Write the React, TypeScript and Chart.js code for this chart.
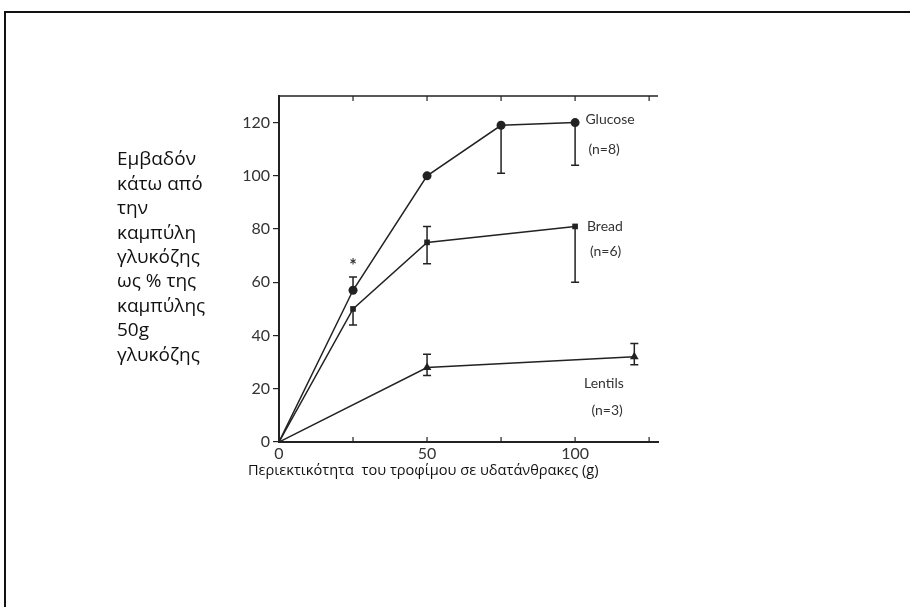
import { useEffect, useRef } from "react";
import { Chart, registerables } from "chart.js";

Chart.register(...registerables);

// ---- data ----
const glucoseX = [0, 25, 50, 75, 100];
const glucoseY = [0, 57, 100, 119, 120];
const glucoseErrLow: (number | null)[] = [null, null, null, 101, 104];
const glucoseErrHigh: (number | null)[] = [null, 62, null, null, null];

const breadX = [0, 25, 50, 100];
const breadY = [0, 50, 75, 81];
const breadErrLow: (number | null)[] = [null, 44, 67, 60];
const breadErrHigh: (number | null)[] = [null, null, 81, null];

const lentilsX = [0, 50, 120];
const lentilsY = [0, 28, 32];
const lentilsErrLow: (number | null)[] = [null, 25, 29];
const lentilsErrHigh: (number | null)[] = [null, 33, 37];

const xLabeledTicks = [0, 50, 100];
const xMin = 0;
const xMax = 128;
const xStep = 25;
const yMin = 0;
const yMax = 130;
const yStep = 20;

const yTitleLines = [
  "Εμβαδόν",
  "κάτω από",
  "την",
  "καμπύλη",
  "γλυκόζης",
  "ως % της",
  "καμπύλης",
  "50g",
  "γλυκόζης",
];
const xTitle = "Περιεκτικότητα  του τροφίμου σε υδατάνθρακες (g)";

const noteTexts = ["Glucose", "(n=8)", "Bread", "(n=6)", "Lentils", "(n=3)", "*"];
const noteX = [103.5, 104.5, 104, 105, 103, 105.5, 25];
const noteY = [121, 110, 81, 71.5, 22, 12, 67];

const errLows = [glucoseErrLow, breadErrLow, lentilsErrLow];
const errHighs = [glucoseErrHigh, breadErrHigh, lentilsErrHigh];

const INK = "#222";

const toPoints = (xs: number[], ys: number[]) => xs.map((x, i) => ({ x, y: ys[i] }));

export default function App() {
  const ref = useRef<HTMLCanvasElement | null>(null);

  useEffect(() => {
    if (!ref.current) return;

    const framePlugin = {
      id: "frame",
      beforeDraw(chart: any) {
        const { ctx, width, height } = chart;
        ctx.save();
        ctx.fillStyle = "#fff";
        ctx.fillRect(0, 0, width, height);
        ctx.strokeStyle = "#111";
        ctx.lineWidth = 2;
        ctx.beginPath();
        ctx.moveTo(5, height + 5);
        ctx.lineTo(5, 12);
        ctx.lineTo(width + 5, 12);
        ctx.stroke();
        ctx.restore();
      },
    };

    const axesPlugin = {
      id: "axesExtra",
      afterDraw(chart: any) {
        const { ctx, chartArea } = chart;
        const xs = chart.scales.x;
        ctx.save();
        ctx.strokeStyle = INK;
        ctx.lineWidth = 1.5;
        ctx.beginPath();
        ctx.moveTo(chartArea.left, chartArea.top);
        ctx.lineTo(chartArea.right, chartArea.top);
        ctx.stroke();
        ctx.lineWidth = 1.2;
        xs.ticks.forEach((t: any) => {
          if (t.value === 0) return;
          const px = xs.getPixelForValue(t.value);
          ctx.beginPath();
          ctx.moveTo(px, chartArea.bottom);
          ctx.lineTo(px, chartArea.bottom - 5);
          ctx.moveTo(px, chartArea.top);
          ctx.lineTo(px, chartArea.top + 5);
          ctx.stroke();
        });
        ctx.restore();
      },
    };

    const errorPlugin = {
      id: "errorBars",
      afterDatasetsDraw(chart: any) {
        const { ctx } = chart;
        const xs = chart.scales.x;
        const ys = chart.scales.y;
        ctx.save();
        ctx.strokeStyle = INK;
        ctx.lineWidth = 1.5;
        chart.data.datasets.forEach((ds: any, di: number) => {
          ds.data.forEach((p: any, i: number) => {
            const lo = errLows[di][i];
            const hi = errHighs[di][i];
            if (lo == null && hi == null) return;
            const px = xs.getPixelForValue(p.x);
            const top = ys.getPixelForValue(hi ?? p.y);
            const bot = ys.getPixelForValue(lo ?? p.y);
            ctx.beginPath();
            ctx.moveTo(px, top);
            ctx.lineTo(px, bot);
            if (hi != null) {
              ctx.moveTo(px - 4, top);
              ctx.lineTo(px + 4, top);
            }
            if (lo != null) {
              ctx.moveTo(px - 4, bot);
              ctx.lineTo(px + 4, bot);
            }
            ctx.stroke();
          });
        });
        ctx.restore();
      },
    };

    const textPlugin = {
      id: "texts",
      afterDraw(chart: any) {
        const { ctx } = chart;
        const xs = chart.scales.x;
        const ys = chart.scales.y;
        ctx.save();
        ctx.fillStyle = "#333";
        ctx.textBaseline = "middle";
        noteTexts.forEach((t, i) => {
          const px = xs.getPixelForValue(noteX[i]);
          const py = ys.getPixelForValue(noteY[i]);
          if (t === "*") {
            ctx.font = "bold 18px Lato";
            ctx.textAlign = "center";
            ctx.fillText(t, px, py + 3);
          } else {
            ctx.font = "14px Lato";
            ctx.textAlign = "left";
            ctx.fillText(t, px, py);
          }
        });
        ctx.fillStyle = "#111";
        ctx.font = "19px 'Open Sans'";
        ctx.textAlign = "left";
        yTitleLines.forEach((line, i) => {
          ctx.fillText(line, 117, 160 + i * 24.4);
        });
        ctx.font = "14.6px 'Open Sans'";
        ctx.fillText(xTitle, 248, 471);
        ctx.restore();
      },
    };

    const mk = (xs: number[], ys: number[], style: string, r: number) => ({
      data: toPoints(xs, ys),
      showLine: true,
      borderColor: INK,
      backgroundColor: INK,
      borderWidth: 1.5,
      pointStyle: style,
      pointRadius: xs.map((x) => (x === 0 ? 0 : r)),
      pointBorderWidth: 0,
      tension: 0,
    });

    const chart = new Chart(ref.current, {
      type: "scatter",
      data: {
        datasets: [
          mk(glucoseX, glucoseY, "circle", 4.5),
          mk(breadX, breadY, "rect", 4),
          mk(lentilsX, lentilsY, "triangle", 5),
        ] as any,
      },
      options: {
        animation: false,
        responsive: false,
        devicePixelRatio: 1,
        layout: { padding: { left: 234, right: 252, top: 96, bottom: 135 } },
        plugins: { legend: { display: false }, tooltip: { enabled: false } },
        scales: {
          x: {
            type: "linear",
            min: xMin,
            max: xMax,
            afterFit: (s: any) => {
              s.height = 30;
            },
            ticks: {
              stepSize: xStep,
              includeBounds: false,
              autoSkip: false,
              maxRotation: 0,
              padding: 2,
              color: "#333",
              font: { family: "Lato", size: 16 },
              callback: (v: any) => (xLabeledTicks.includes(Number(v)) ? String(v) : ""),
            },
            grid: { display: false, drawTicks: false },
            border: { display: true, color: INK, width: 2 },
          },
          y: {
            type: "linear",
            min: yMin,
            max: yMax,
            afterFit: (s: any) => {
              s.width = 45;
            },
            ticks: {
              stepSize: yStep,
              includeBounds: false,
              padding: 3,
              color: "#333",
              font: { family: "Lato", size: 16 },
            },
            grid: { display: true, drawOnChartArea: false, drawTicks: true, tickLength: 6, color: INK, lineWidth: 1.2 },
            border: { display: true, color: INK, width: 2 },
          },
        },
      },
      plugins: [framePlugin, axesPlugin, errorPlugin, textPlugin],
    });

    return () => chart.destroy();
  }, []);

  return (
    <canvas
      ref={ref}
      width={910}
      height={607}
      style={{ position: "absolute", left: 0, top: 0, width: 910, height: 607 }}
    />
  );
}
